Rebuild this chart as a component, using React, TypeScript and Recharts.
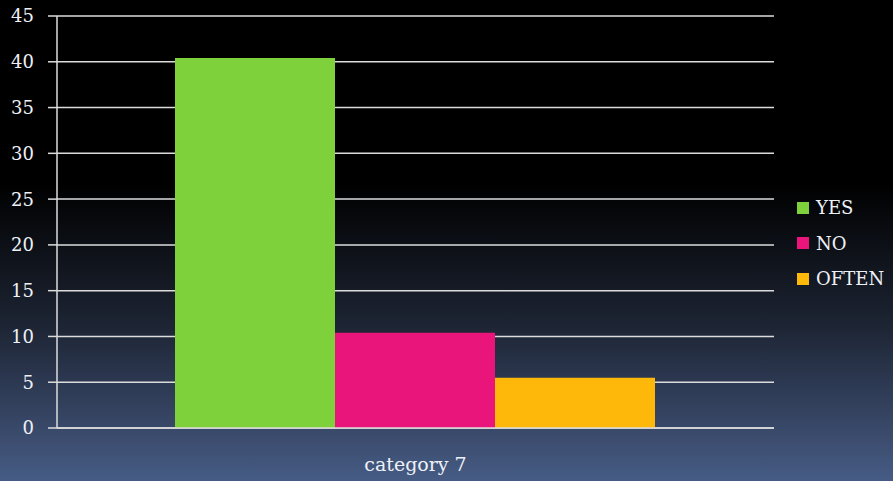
import React from 'react';
import { BarChart, Bar, XAxis, YAxis, CartesianGrid, Legend } from 'recharts';

const categories = ['category 7'];
const yesValues = [40.4];
const noValues = [10.4];
const oftenValues = [5.5];
const yTicks = [0, 5, 10, 15, 20, 25, 30, 35, 40, 45];

const series = [
  { key: 'YES', color: '#7fd13b' },
  { key: 'NO', color: '#ea157a' },
  { key: 'OFTEN', color: '#feb80a' },
];

const data = categories.map((name, i) => ({
  name,
  YES: yesValues[i],
  NO: noValues[i],
  OFTEN: oftenValues[i],
}));

const fontFamily = '"DejaVu Serif", "Liberation Serif", serif';
const textColor = '#eef1f7';

const renderLegend = () => (
  <div style={{ fontFamily, fontSize: 18, color: textColor }}>
    {series.map((s) => (
      <div key={s.key} style={{ display: 'flex', alignItems: 'center', height: 35.5 }}>
        <span style={{ width: 12, height: 12, background: s.color, marginRight: 7, display: 'inline-block' }} />
        <span>{s.key}</span>
      </div>
    ))}
  </div>
);

export default function App() {
  return (
    <div
      style={{
        position: 'absolute',
        left: 0,
        top: 0,
        width: 893,
        height: 481,
        background: 'linear-gradient(to bottom, #000000 0%, #000000 38%, #1b2230 66%, #3a4a6b 90%, #465c85 100%)',
      }}
    >
      <BarChart
        width={893}
        height={481}
        data={data}
        margin={{ top: 16, right: 119, left: 0, bottom: 13 }}
        barCategoryGap={118}
        barGap={0}
      >
        <CartesianGrid vertical={false} stroke="#dcdcdc" strokeWidth={1.5} />
        <XAxis
          dataKey="name"
          height={40}
          tickLine={false}
          axisLine={{ stroke: '#dcdcdc', strokeWidth: 1.5 }}
          tickMargin={24}
          tick={{ fill: textColor, fontSize: 19, fontFamily }}
        />
        <YAxis
          width={57}
          domain={[0, 45]}
          ticks={yTicks}
          interval={0}
          tickSize={9}
          tickMargin={14}
          axisLine={{ stroke: '#dcdcdc', strokeWidth: 1.5 }}
          tickLine={{ stroke: '#dcdcdc', strokeWidth: 1.5 }}
          tick={{ fill: textColor, fontSize: 18, fontFamily }}
        />
        <Legend
          layout="vertical"
          align="center"
          verticalAlign="middle"
          content={renderLegend}
          wrapperStyle={{ position: 'absolute', left: 797, top: 190, width: 96 }}
        />
        {series.map((s) => (
          <Bar key={s.key} dataKey={s.key} fill={s.color} isAnimationActive={false} />
        ))}
      </BarChart>
    </div>
  );
}
